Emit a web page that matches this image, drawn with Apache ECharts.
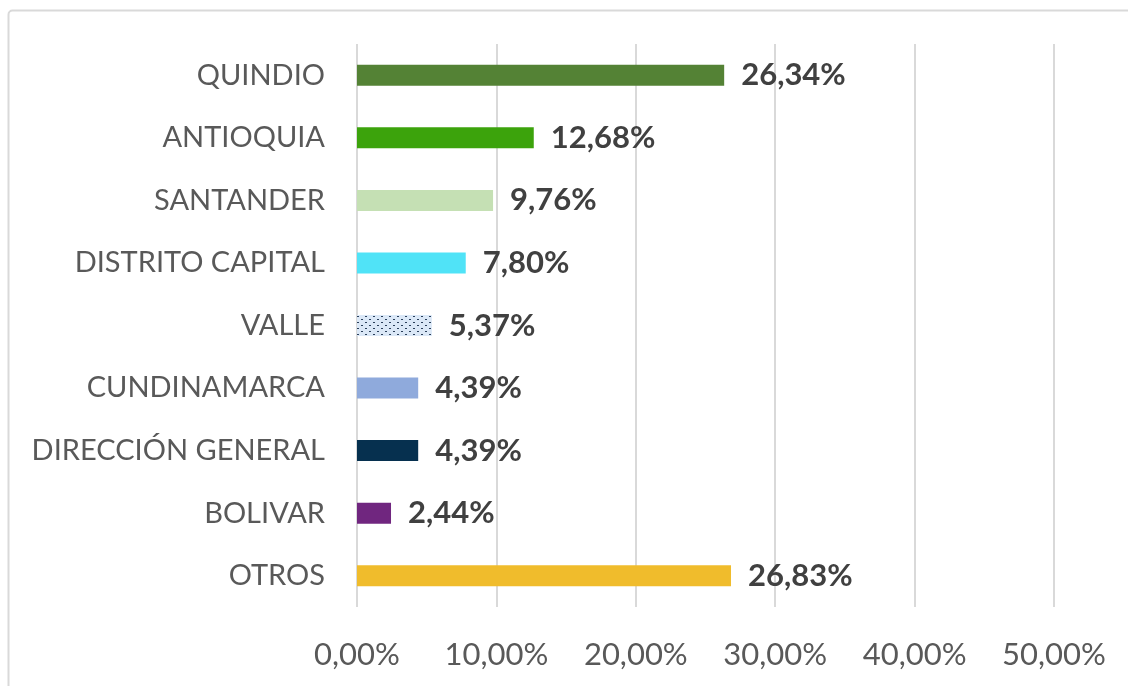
<!DOCTYPE html>
<html>
<head>
<meta charset="utf-8">
<script src="https://cdn.jsdelivr.net/npm/echarts@6/dist/echarts.min.js"></script>
<style>
html, body { margin: 0; padding: 0; background: #fff; }
#chart { width: 1128px; height: 686px; }
</style>
</head>
<body>
<div id="chart"></div>
<script>
const categories = ['QUINDIO', 'ANTIOQUIA', 'SANTANDER', 'DISTRITO CAPITAL', 'VALLE', 'CUNDINAMARCA', 'DIRECCIÓN GENERAL', 'BOLIVAR', 'OTROS'];
const values = [26.34, 12.68, 9.76, 7.80, 5.37, 4.39, 4.39, 2.44, 26.83];
const barColors = ['#548235', '#3ca30c', '#c5e0b4', '#50e3f7', 'pattern', '#8faadc', '#06304f', '#70267f', '#f0bc2c'];

//dotted pattern for VALLE
let patternCanvas = document.createElement('canvas');
patternCanvas.width = 8;
patternCanvas.height = 6;
let pctx = patternCanvas.getContext('2d');
pctx.fillStyle = '#dbe8f7';
pctx.fillRect(0, 0, 8, 6);
pctx.fillStyle = '#2a3f5a';
pctx.fillRect(1, 1, 2, 1);
pctx.fillRect(5, 4, 2, 1);

let fmt = function (v) {
    return v.toFixed(2).replace('.', ',') + '%';
};

let chart = echarts.init(document.getElementById('chart'));
let option = {
    backgroundColor: '#fff',
    animation: false,
    graphic: [{
        type: 'rect',
        shape: { x: 8.5, y: 10.5, width: 1140, height: 700, r: 4 },
        style: { fill: 'none', stroke: '#d9d9d9', lineWidth: 2 },
        silent: true
    }],
    grid: { left: 357, right: 74, top: 44, bottom: 79 },
    xAxis: {
        type: 'value',
        min: 0,
        max: 50,
        interval: 10,
        axisLine: { show: false },
        axisTick: { show: false },
        splitLine: { lineStyle: { color: '#d9d9d9', width: 2 } },
        axisLabel: {
            formatter: fmt,
            color: '#595959',
            fontSize: 31,
            fontFamily: 'Lato',
            margin: 32
        }
    },
    yAxis: {
        type: 'category',
        data: categories,
        inverse: true,
        axisLine: { show: false },
        axisTick: { show: false },
        axisLabel: {
            color: '#595959',
            fontSize: 29,
            fontFamily: 'Lato',
            margin: 32
        }
    },
    series: [{
        type: 'bar',
        barWidth: 21,
        data: values.map(function (v, i) {
            let c = barColors[i] == 'pattern' ? { image: patternCanvas, repeat: 'repeat' } : barColors[i];
            return { value: v, itemStyle: { color: c } };
        }),
        label: {
            show: true,
            position: 'right',
            distance: 17,
            formatter: function (p) { return fmt(p.value); },
            color: '#404040',
            fontSize: 31,
            fontWeight: 'bold',
            fontFamily: 'Lato'
        }
    }]
};
chart.setOption(option);
</script>
</body>
</html>
